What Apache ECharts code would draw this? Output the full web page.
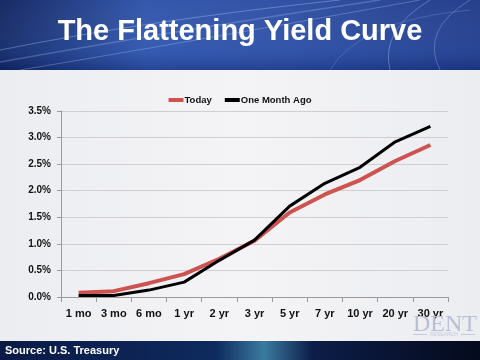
<!DOCTYPE html>
<html><head><meta charset="utf-8">
<script src="https://cdn.jsdelivr.net/npm/echarts@6/dist/echarts.min.js"></script>
<style>html,body{margin:0;padding:0;background:#fff}#c{width:480px;height:360px}</style>
</head><body><div id="c"></div>
<script>
const categories = ['1 mo','3 mo','6 mo','1 yr','2 yr','3 yr','5 yr','7 yr','10 yr','20 yr','30 yr'];
const today = [0.08, 0.11, 0.26, 0.43, 0.72, 1.06, 1.59, 1.93, 2.20, 2.56, 2.86];
const monthAgo = [0.03, 0.03, 0.13, 0.28, 0.69, 1.07, 1.71, 2.14, 2.44, 2.92, 3.21];
const yTicks = [0, 0.5, 1.0, 1.5, 2.0, 2.5, 3.0, 3.5];

const streak = (x1,y1,cx,cy,x2,y2,a,w) => ({type:'bezierCurve', z:-8, silent:true,
  shape:{x1:x1,y1:y1,cpx1:cx,cpy1:cy,x2:x2,y2:y2},
  style:{stroke:'rgba(190,215,255,'+a+')', lineWidth:w, fill:null}});

const chart = echarts.init(document.getElementById('c'), null, {renderer:'canvas'});
chart.setOption({
  animation: false,
  backgroundColor: '#f0f0f3',
  graphic: [
    {type:'rect', z:-10, shape:{x:0,y:0,width:480,height:70},
     style:{fill:new echarts.graphic.LinearGradient(0,0,1,0,[
       {offset:0,color:'#0b1f5c'},{offset:0.3,color:'#2a4fa8'},{offset:0.6,color:'#2748a0'},{offset:1,color:'#1a3585'}])}},
    {type:'rect', z:-9, shape:{x:0,y:0,width:480,height:70},
     style:{fill:new echarts.graphic.LinearGradient(0,0,0,1,[
       {offset:0,color:'rgba(255,255,255,0.05)'},{offset:0.7,color:'rgba(120,160,230,0.15)'},{offset:1,color:'rgba(20,40,100,0.25)'}])}},
    streak(0,50,150,20,340,0,0.35,1),
    streak(0,62,180,30,380,0,0.25,1.5),
    streak(20,70,200,40,420,0,0.3,1),
    streak(390,70,380,30,430,0,0.35,1),
    streak(440,70,420,30,470,0,0.3,1),
    streak(330,70,360,20,470,10,0.2,1),
    {type:'rect', z:-9, shape:{x:0,y:70,width:480,height:271},
     style:{fill:new echarts.graphic.LinearGradient(0,0,1,0,[
       {offset:0,color:'#ecedf1'},{offset:0.5,color:'#f4f4f6'},{offset:1,color:'#ecedf1'}])}},
    {type:'rect', z:-9, shape:{x:0,y:341,width:480,height:19},
     style:{fill:new echarts.graphic.LinearGradient(0,0,1,0,[
       {offset:0,color:'#0a1a45'},{offset:0.45,color:'#0e2a5e'},{offset:0.55,color:'#3c7aa0'},{offset:0.65,color:'#0c1d48'},{offset:1,color:'#050a1c'}])}},
    {type:'text', left:'center', top:17, z:10,
     style:{text:'The Flattening Yield Curve', fill:'#ffffff', font:'bold 29px "Liberation Sans", Arial, sans-serif',
       shadowColor:'rgba(0,0,0,0.6)', shadowBlur:3, shadowOffsetX:1, shadowOffsetY:1}},
    {type:'text', left:5, top:345, z:10,
     style:{text:'Source: U.S. Treasury', fill:'#ffffff', font:'bold 11px "Liberation Sans", Arial, sans-serif'}},
    {type:'text', left:413, top:313, z:1,
     style:{text:'DENT', fill:'#b8bfd2', font:'24px "Liberation Serif", "DejaVu Serif", serif'}},
    {type:'line', z:1, shape:{x1:413,y1:334.5,x2:427,y2:334.5}, style:{stroke:'#c4c9d8', lineWidth:1}},
    {type:'line', z:1, shape:{x1:461,y1:334.5,x2:475,y2:334.5}, style:{stroke:'#c4c9d8', lineWidth:1}},
    {type:'text', left:430, top:332, z:1,
     style:{text:'RESEARCH', fill:'#c4c9d8', font:'5px "Liberation Sans", Arial, sans-serif'}}
  ],
  legend: {
    top: 90, left: 'center', itemWidth: 15, itemHeight: 4, itemGap: 13,
    icon: 'rect',
    textStyle: {color:'#111', fontSize: 9.5, fontWeight:'bold', fontFamily:'"Liberation Sans", Arial, sans-serif', padding:[0,0,0,-4]},
    data: ['Today','One Month Ago']
  },
  grid: {left: 61, right: 32, top: 111, bottom: 63, containLabel:false},
  xAxis: {
    type: 'category', data: categories, boundaryGap: true,
    axisLine: {lineStyle:{color:'#9a9a9a'}},
    axisTick: {show:true, length:5, lineStyle:{color:'#9a9a9a'}},
    axisLabel: {color:'#111', fontSize: 11, fontWeight:'bold', fontFamily:'"Liberation Sans", Arial, sans-serif', margin: 11, interval:0}
  },
  yAxis: {
    type: 'value', min: 0, max: 3.5, interval: 0.5,
    axisLine: {show:true, lineStyle:{color:'#9a9a9a'}},
    axisTick: {show:true, length:4, lineStyle:{color:'#9a9a9a'}},
    splitLine: {lineStyle:{color:'#cfcfd3'}},
    axisLabel: {color:'#111', fontSize: 10, fontWeight:'bold', fontFamily:'"Liberation Sans", Arial, sans-serif', margin: 10,
      formatter: v => yTicks.includes(v) ? v.toFixed(1) + '%' : ''}
  },
  series: [
    {name:'Today', type:'line', data: today, symbol:'none', lineStyle:{color:'#cd5350', width:4}, itemStyle:{color:'#cd5350'}, z:3},
    {name:'One Month Ago', type:'line', data: monthAgo, symbol:'none', lineStyle:{color:'#000000', width:3}, itemStyle:{color:'#000'}, z:4}
  ]
});
</script></body></html>
